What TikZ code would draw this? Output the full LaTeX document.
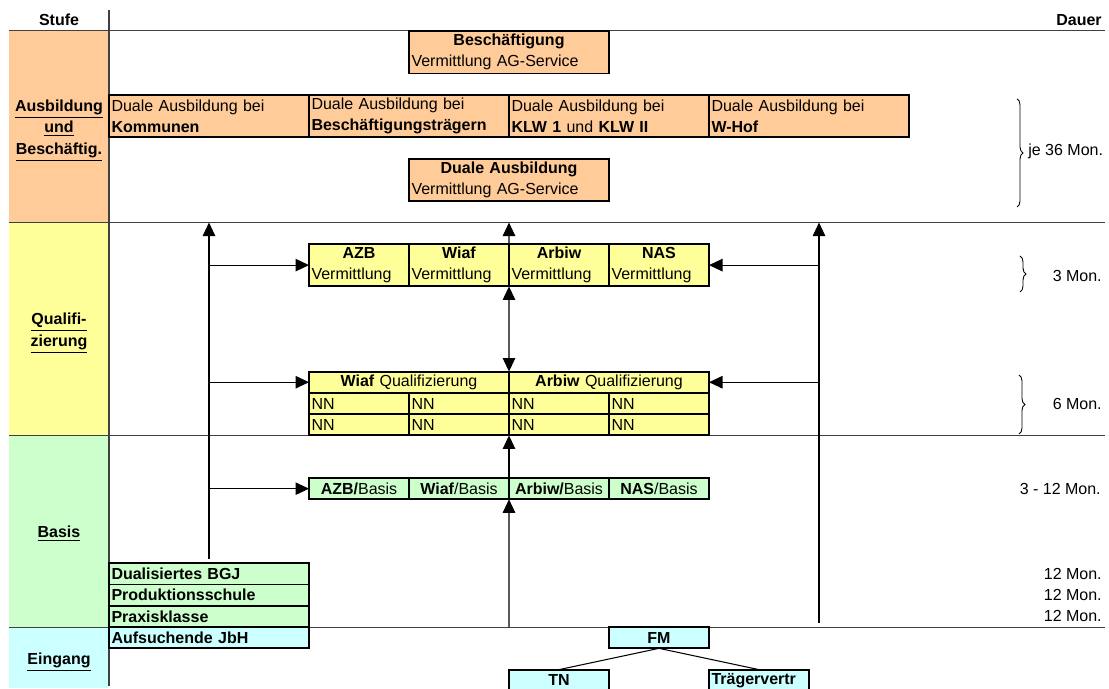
\documentclass[tikz,border=0pt]{standalone}
\usepackage{fontspec}
\setmainfont{Liberation Sans}
\usepackage{tikz}
\usepackage{xcolor}
\usetikzlibrary{arrows.meta, decorations.pathreplacing}

\definecolor{ausbcol}{HTML}{FFCC99}
\definecolor{qualcol}{HTML}{FFFF99}
\definecolor{basiscol}{HTML}{CCFFCC}
\definecolor{eingcol}{HTML}{CCFFFF}
\newcommand{\boxfont}{\fontsize{9.1}{12.1}\selectfont}
\newcommand{\ctrline}[1]{\makebox[\linewidth]{#1}}

\begin{document}
\begin{tikzpicture}[x=2cm, y=-0.4258cm,
    every node/.style={font=\boxfont},
    box/.style={draw, line width=1.1pt, anchor=north west, outer sep=0pt, inner xsep=0.05cm, inner ysep=0pt, align=left},
    wide/.style={text width=3.9cm},
    narrow/.style={text width=1.9cm},
    low/.style={minimum height=0.4258cm},
    tall/.style={minimum height=0.8516cm},
    sep/.style={line width=0.6pt, black!75},
    arr/.style={line width=0.6pt, -{Triangle[length=0.27cm, width=0.25cm]}},
    darr/.style={line width=0.6pt, {Triangle[length=0.27cm, width=0.25cm]}-{Triangle[length=0.27cm, width=0.25cm]}},
    br/.style={decorate, decoration={brace, amplitude=0.12cm}, line width=0.5pt},
    stage/.style={align=center, font=\boxfont\bfseries},
    dur/.style={inner xsep=0pt}]
        \useasboundingbox (-0.09,-1.453) rectangle (11.0,30.89);
        \fill[ausbcol] (0,0) rectangle (1,9);
        \fill[qualcol] (0,9) rectangle (1,19);
        \fill[basiscol] (0,19) rectangle (1,28);
        \fill[eingcol] (0,28) rectangle (1,30.86);
        \foreach \r in {0,9,19,28}
            \draw[sep] (0,\r) -- (10.96,\r);
        \draw[sep] (1,-1) -- (1,30.75);

        \node[stage] (stufe) at (0.5,-0.5) {Stufe};
        \node[stage, dur, anchor=east] (dauer) at (10.93,-0.5) {Dauer};
        \node[stage] (ausb) at (0.5,4.68) {\underline{Ausbildung}\\\underline{und}\\\underline{Beschäftig.}};
        \node[stage] (qual) at (0.5,14.2) {\underline{Qualifi-}\\\underline{zierung}};
        \node[stage] (basis) at (0.5,23.6) {\underline{Basis}};
        \node[stage] (eing) at (0.5,29.65) {\underline{Eingang}};

        \node[box, wide, tall, fill=ausbcol] (besch) at (4,0) {\ctrline{\textbf{Beschäftigung}}\\Vermittlung AG-Service};
        \node[box, wide, tall, fill=ausbcol] (dkom) at (1,3) {Duale Ausbildung bei\\\textbf{Kommunen}};
        \node[box, wide, tall, fill=ausbcol] (dbes) at (3,3) {Duale Ausbildung bei\\\textbf{Beschäftigungsträgern}};
        \node[box, wide, tall, fill=ausbcol] (dklw) at (5,3) {Duale Ausbildung bei\\\textbf{KLW 1} und \textbf{KLW II}};
        \node[box, wide, tall, fill=ausbcol] (dhof) at (7,3) {Duale Ausbildung bei\\\textbf{W-Hof}};
        \node[box, wide, tall, fill=ausbcol] (dual) at (4,6) {\ctrline{\textbf{Duale Ausbildung}}\\Vermittlung AG-Service};

        \node[box, narrow, tall, fill=qualcol] (azbv) at (3,10) {\ctrline{\textbf{AZB}}\\Vermittlung};
        \node[box, narrow, tall, fill=qualcol] (wiafv) at (4,10) {\ctrline{\textbf{Wiaf}}\\Vermittlung};
        \node[box, narrow, tall, fill=qualcol] (arbiwv) at (5,10) {\ctrline{\textbf{Arbiw}}\\Vermittlung};
        \node[box, narrow, tall, fill=qualcol] (nasv) at (6,10) {\ctrline{\textbf{NAS}}\\Vermittlung};

        \node[box, wide, low, fill=qualcol, align=center] (wiafq) at (3,16) {\textbf{Wiaf} Qualifizierung};
        \node[box, wide, low, fill=qualcol, align=center] (arbiwq) at (5,16) {\textbf{Arbiw} Qualifizierung};
        \foreach \c in {3,...,6}
            \foreach \r in {17,18}
                \node[box, narrow, low, fill=qualcol] (nn\c\r) at (\c,\r) {NN};

        \node[box, narrow, low, fill=basiscol, align=center] (azbb) at (3,21) {\textbf{AZB/}Basis};
        \node[box, narrow, low, fill=basiscol, align=center] (wiafb) at (4,21) {\textbf{Wiaf}/Basis};
        \node[box, narrow, low, fill=basiscol, align=center] (arbiwb) at (5,21) {\textbf{Arbiw/}Basis};
        \node[box, narrow, low, fill=basiscol, align=center] (nasb) at (6,21) {\textbf{NAS}/Basis};

        \node[box, wide, low, fill=basiscol] (bgj) at (1,25) {\textbf{Dualisiertes BGJ}};
        \node[box, wide, low, fill=basiscol] (prod) at (1,26) {\textbf{Produktionsschule}};
        \node[box, wide, low, fill=basiscol] (praxis) at (1,27) {\textbf{Praxisklasse}};
        \node[box, wide, low, fill=eingcol] (jbh) at (1,28) {\textbf{Aufsuchende JbH}};
        \node[box, narrow, low, fill=eingcol, align=center] (fm) at (6,28) {\textbf{FM}};
        \node[box, narrow, low, fill=eingcol, align=center] (tn) at (5,30) {\textbf{TN}};
        \node[box, narrow, low, fill=eingcol] (trv) at (7,30) {\textbf{Trägervertr}};

        \node[dur, anchor=west] (je36) at (10.19,5.68) {je 36 Mon.};
        \node[dur, anchor=east] (m3) at (10.93,11.5) {3 Mon.};
        \node[dur, anchor=east] (m6) at (10.93,17.5) {6 Mon.};
        \node[dur, anchor=east] (m312) at (10.92,21.5) {3 - 12 Mon.};
        \foreach \r in {25,26,27}
            \node[dur, anchor=east] (m12\r) at (10.93,\r.5) {12 Mon.};

        \draw[br] (10.08,3.19) -- (10.08,8.27);
        \draw[br] (10.11,10.57) -- (10.11,12.26);
        \draw[br] (10.10,16.16) -- (10.10,18.93);

        \coordinate (lbot) at (2,24.8);
        \coordinate (ltop) at (2,9);
        \coordinate (rbot) at (8.1,27.8);
        \coordinate (rtop) at (8.1,9);
        \coordinate (mtop) at (5,9);
        \coordinate (mbot) at (5,28);

        \draw[arr] (lbot) -- (ltop);
        \draw[arr] (rbot) -- (rtop);
        \draw[arr] (ltop |- azbv.west) -- (azbv.west);
        \draw[arr] (ltop |- wiafq.west) -- (wiafq.west);
        \draw[arr] (ltop |- azbb.west) -- (azbb.west);
        \draw[arr] (rtop |- nasv.east) -- (nasv.east);
        \draw[arr] (rtop |- arbiwq.east) -- (arbiwq.east);
        \draw[arr] (wiafv.north east) -- (mtop);
        \draw[darr] (wiafv.south east) -- (wiafq.north east);
        \draw[arr] (wiafb.north east) -- (nn418.south east);
        \draw[arr] (mbot) -- (wiafb.south east);

        \draw[line width=0.6pt] (fm.south) to (tn.north)
            (fm.south) to (trv.north);
\end{tikzpicture}
\end{document}
